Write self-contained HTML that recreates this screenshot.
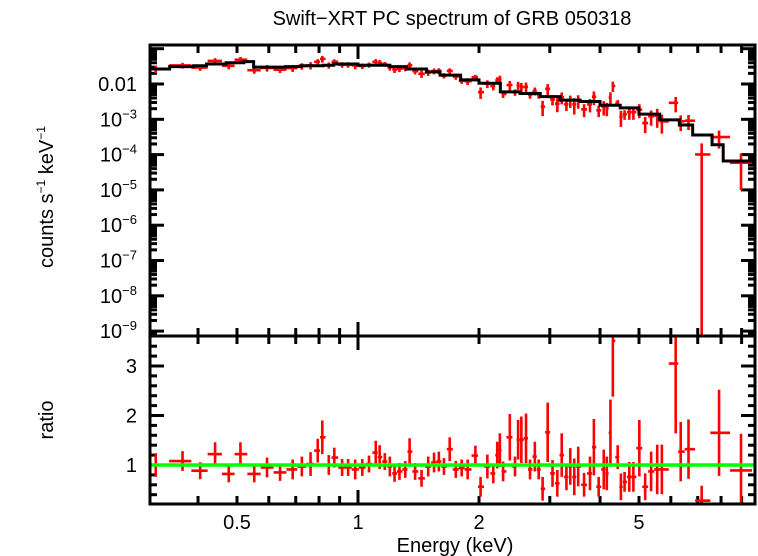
<!DOCTYPE html>
<html><head><meta charset="utf-8"><style>
html,body{margin:0;padding:0;background:#fff;}
svg{display:block;font-family:"Liberation Sans",sans-serif;}
</style></head><body>
<svg id="chart" width="758" height="556" viewBox="0 0 758 556">
<text x="452" y="25" font-size="20" text-anchor="middle">Swift−XRT PC spectrum of GRB 050318</text>
<text transform="translate(53,197) rotate(-90)" font-size="20" text-anchor="middle">counts s<tspan font-size="12" dy="-8">−1</tspan><tspan dy="8"> keV</tspan><tspan font-size="12" dy="-8">−1</tspan></text>
<text transform="translate(53,420) rotate(-90)" font-size="20" text-anchor="middle">ratio</text>
<text x="455" y="552" font-size="20" text-anchor="middle">Energy (keV)</text>
<g id="ticks"></g><g id="data"></g><g id="frame"></g>
</svg>
<script>
const binEnergy=[0.314,0.366,0.405,0.441,0.477,0.510,0.552,0.594,0.640,0.688,0.725,0.762,0.794,0.815,0.846,0.873,0.913,0.945,0.984,1.025,1.065,1.107,1.132,1.166,1.200,1.233,1.268,1.311,1.344,1.387,1.439,1.495,1.546,1.589,1.636,1.691,1.751,1.811,1.874,1.959,2.018,2.098,2.170,2.220,2.254,2.296,2.386,2.458,2.502,2.549,2.618,2.679,2.754,2.815,2.879,2.964,3.047,3.132,3.212,3.300,3.373,3.451,3.530,3.651,3.777,3.862,3.969,4.086,4.159,4.246,4.305,4.426,4.508,4.604,4.730,4.842,5.01,5.18,5.36,5.55,5.70,6.17,6.35,6.64,7.16,7.91,8.97];
const ratioValues=[1.0,1.08,0.885,1.22,0.82,1.22,0.82,0.95,0.85,0.91,0.97,1.02,1.29,1.56,1.0,1.15,0.95,0.95,0.91,0.95,1.02,1.25,1.16,1.07,0.97,0.83,0.87,0.91,1.27,0.87,0.73,0.97,1.05,1.07,0.97,1.32,0.91,0.94,0.91,1.19,0.56,0.97,0.83,1.20,1.30,0.87,1.56,0.97,1.51,1.51,1.54,0.91,1.17,0.91,0.52,1.66,0.83,0.63,1.2,0.76,0.97,0.76,0.97,0.6,0.83,1.36,0.56,0.91,0.83,1.65,3.51,1.16,0.56,0.66,0.76,0.76,1.34,0.56,0.87,0.91,0.91,3.05,1.27,1.32,0.28,1.65,0.89];
const ratioErrors=[0.24,0.2,0.17,0.24,0.17,0.24,0.17,0.2,0.17,0.2,0.2,0.24,0.24,0.34,0.2,0.2,0.17,0.17,0.2,0.17,0.17,0.24,0.24,0.17,0.2,0.17,0.17,0.17,0.27,0.17,0.17,0.2,0.2,0.2,0.17,0.24,0.17,0.17,0.2,0.2,0.2,0.24,0.2,0.27,0.34,0.2,0.47,0.2,0.4,0.47,0.5,0.2,0.3,0.2,0.24,0.6,0.27,0.27,0.44,0.27,0.37,0.37,0.4,0.24,0.34,0.57,0.2,0.4,0.34,0.67,1.13,0.24,0.27,0.2,0.3,0.3,0.57,0.27,0.4,0.5,0.5,1.41,0.6,0.6,0.3,0.87,0.74];
const modelEdges=[0.30,0.34,0.39,0.42,0.47,0.52,0.55,0.66,0.72,0.82,0.87,1.0,1.2,1.32,1.48,1.6,1.8,2.0,2.26,2.53,2.84,3.18,3.57,4.0,4.49,5.0,5.63,6.3,6.8,7.6,8.1,10.0];
const modelValues=[0.0266,0.031,0.033,0.037,0.040,0.043,0.030,0.031,0.033,0.034,0.037,0.034,0.031,0.0266,0.022,0.0178,0.0131,0.0105,0.0060,0.0054,0.0044,0.0035,0.0032,0.0025,0.0021,0.0014,0.00096,0.00069,0.00036,0.00019,0.000066];
const xTickLabels=[0.5,1,2,5];
const yTickExps=[-2,-3,-4,-5,-6,-7,-8,-9];
const ratioTickLabels=[1,2,3];

const NS="http://www.w3.org/2000/svg";
const L=150,R=755,T1=45,B1=336,T2=336,B2=504;
const xs=e=>358+402*Math.log10(e);
const ys=v=>84-35.3*(Math.log10(v)+2);
const yr=r=>465-49.5*(r-1);
const clamp=(v,a,b)=>Math.max(a,Math.min(b,v));
function mk(tag,attrs,parent){const el=document.createElementNS(NS,tag);for(const k in attrs)el.setAttribute(k,attrs[k]);parent.appendChild(el);return el;}
const gT=document.getElementById('ticks'),gD=document.getElementById('data'),gF=document.getElementById('frame');

const minors=[0.4,0.5,0.6,0.7,0.8,0.9,2,3,4,5,6,7,8,9];
minors.forEach(e=>{const x=xs(e);[[T1,T1+8],[B1,B1-8],[T2,T2+8],[B2,B2-8]].forEach(p=>{
const t=mk('line',{x1:x,x2:x,y1:p[0],y2:p[1],stroke:'#000','stroke-width':3},gT);

});});
[[T1,T1+14],[B1-14,B1+14],[B2,B2-14]].forEach(p=>{const t=mk('line',{x1:xs(1),x2:xs(1),y1:p[0],y2:p[1],stroke:'#000','stroke-width':3},gT);

});
xTickLabels.forEach(e=>{const t=mk('text',{x:xs(e),y:529,'font-size':20,'text-anchor':'middle'},gT);t.textContent=String(e);

});
for(let d=-10;d<=0;d++){for(let m=1;m<10;m++){const v=m*Math.pow(10,d);const y=ys(v);if(y<T1||y>B1)continue;const len=m===1?14:7;
[[L,L+len],[R,R-len]].forEach(p=>{const t=mk('line',{x1:p[0],x2:p[1],y1:y,y2:y,stroke:'#000','stroke-width':3},gT);

});}}
yTickExps.forEach(ex=>{const y=ys(Math.pow(10,ex))+7;const t=mk('text',{x:137,y:y,'font-size':20,'text-anchor':'end'},gT);
if(ex===-2){t.textContent='0.01';}else{t.textContent='10';const s=mk('tspan',{'font-size':13,dy:-8},t);s.textContent='−'+(-ex);}

});
for(let i=2;i<=17;i++){const r=i*0.2;const y=yr(r);if(y<T2+2||y>B2-2)continue;const maj=Math.abs(r-Math.round(r))<1e-6;const len=maj?14:7;
[[L,L+len],[R,R-len]].forEach(p=>{const t=mk('line',{x1:p[0],x2:p[1],y1:y,y2:y,stroke:'#000','stroke-width':3},gT);

});}
ratioTickLabels.forEach(r=>{const t=mk('text',{x:137,y:yr(r)+7,'font-size':20,'text-anchor':'end'},gT);t.textContent=String(r);

});

function modelAt(e){for(let i=0;i<modelValues.length;i++){if(e<modelEdges[i+1])return modelValues[i];}return modelValues[modelValues.length-1];}
binEnergy.forEach((e,i)=>{
const lo=i===0?e*Math.sqrt(e/binEnergy[1]):Math.sqrt(e*binEnergy[i-1]);
const hi=i===binEnergy.length-1?e*Math.sqrt(e/binEnergy[i-1]):Math.sqrt(e*binEnergy[i+1]);
const x0=clamp(xs(lo),L,R),x1=clamp(xs(hi),L,R),xc=xs(e);
const m=modelAt(e),r=ratioValues[i],er=ratioErrors[i];
const c=r*m,ce=er*m;
const yc=clamp(ys(c),T1,B1),yt=clamp(ys(c+ce),T1,B1),yb=(c-ce)>0?clamp(ys(c-ce),T1,B1):B1;
const g=mk('g',{stroke:'#f00','stroke-width':2.6},gD);


mk('line',{x1:x0,x2:x1,y1:yc,y2:yc},g);mk('line',{x1:xc,x2:xc,y1:yt,y2:yb},g);
const ry=clamp(yr(r),T2,B2),rt=clamp(yr(r+er),T2,B2),rb=clamp(yr(r-er),T2,B2);
const g2=mk('g',{stroke:'#f00','stroke-width':2.6},gD);


if(ry>T2&&ry<B2)mk('line',{x1:x0,x2:x1,y1:ry,y2:ry},g2);mk('line',{x1:xc,x2:xc,y1:rt,y2:rb},g2);
});
let d='';modelValues.forEach((v,i)=>{const x0=clamp(xs(modelEdges[i]),L,R),x1=clamp(xs(modelEdges[i+1]),L,R),y=ys(v);d+=(i===0?'M':'L')+x0+','+y+'L'+x1+','+y;});
const mp=mk('path',{d:d,fill:'none',stroke:'#000','stroke-width':3},gD);


const gl=mk('line',{x1:L,x2:R,y1:yr(1),y2:yr(1),stroke:'#0f0','stroke-width':3.5},gD);


const f1=mk('rect',{x:L,y:T1,width:R-L,height:B1-T1,fill:'none',stroke:'#000','stroke-width':3},gF);


const f2=mk('rect',{x:L,y:T2,width:R-L,height:B2-T2,fill:'none',stroke:'#000','stroke-width':3},gF);


</script>
</body></html>
